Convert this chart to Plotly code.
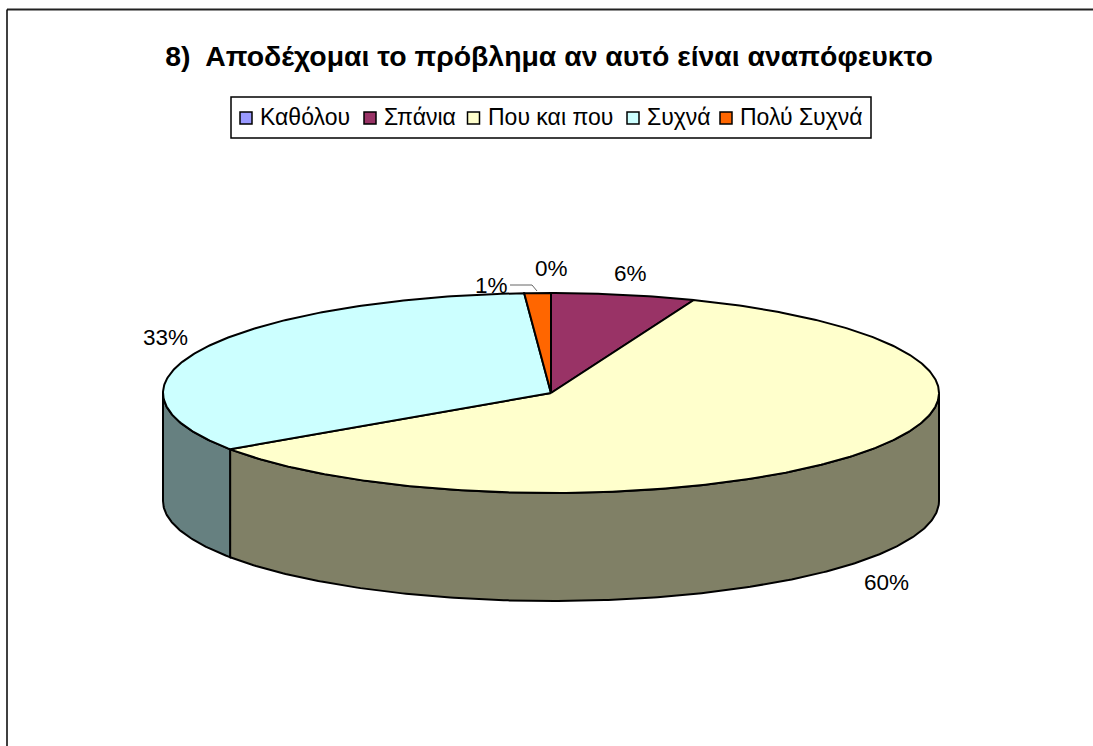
import math
import plotly.graph_objects as go

TITLE = "8)  Αποδέχομαι το πρόβλημα αν αυτό είναι αναπόφευκτο"
categories = ["Καθόλου", "Σπάνια", "Που και που", "Συχνά", "Πολύ Συχνά"]
values = [0.0, 6.0, 59.5, 33.4, 1.1]
colors = ["#9999FF", "#993366", "#FFFFCC", "#CCFFFF", "#FF6600"]
wall_colors = ["#4D4D80", "#4D1A33", "#808066", "#668080", "#803300"]
label_pos = [(551, 268), (630, 273), (886, 582), (165, 337), (491, 285)]
legend_swatch_x = [246, 370, 473.5, 633, 726]
legend_text_x = [260, 384, 488, 647, 740]

W, H = 1093, 746
CX, CY, RX, RY, DEPTH = 551, 393, 388, 100, 108
LEGEND_Y = 118
FONT = "Liberation Sans, Arial, sans-serif"
LINE = dict(color="black", width=2)


def pt(theta, dy=0.0):
    return CX + RX * math.sin(theta), CY - RY * math.cos(theta) + dy


def arc(a, b, dy=0.0):
    n = max(2, int(abs(b - a) / 0.01))
    return [pt(a + (b - a) * i / n, dy) for i in range(n + 1)]


fig = go.Figure()
total = sum(values)
angles = [0.0]
for v in values:
    angles.append(angles[-1] + 2 * math.pi * v / total)

# side walls: only the part of each slice on the front half of the disc
for i, col in enumerate(wall_colors):
    a = max(angles[i], math.pi / 2)
    b = min(angles[i + 1], 3 * math.pi / 2)
    if b <= a:
        continue
    poly = arc(a, b) + arc(b, a, DEPTH)
    poly.append(poly[0])
    fig.add_trace(go.Scatter(
        x=[p[0] for p in poly], y=[p[1] for p in poly], mode="lines", fill="toself",
        fillcolor=col, line=LINE, hoverinfo="skip", showlegend=False))

# top faces
for i, col in enumerate(colors):
    if values[i] <= 0:
        continue
    poly = [(CX, CY)] + arc(angles[i], angles[i + 1]) + [(CX, CY)]
    fig.add_trace(go.Scatter(
        x=[p[0] for p in poly], y=[p[1] for p in poly], mode="lines", fill="toself",
        fillcolor=col, name=categories[i], line=LINE, hoverinfo="skip", showlegend=False))

# legend box, swatches and texts
fig.add_shape(type="rect", x0=231, y0=97, x1=871, y1=138, fillcolor="white",
              line=dict(color="black", width=1.5), layer="below")
fig.add_trace(go.Scatter(
    x=legend_swatch_x, y=[LEGEND_Y] * len(categories), mode="markers", showlegend=False,
    hoverinfo="skip",
    marker=dict(symbol="square", size=12, color=colors, line=dict(color="black", width=1.5))))
for name, lx in zip(categories, legend_text_x):
    fig.add_annotation(x=lx, y=LEGEND_Y - 1, text=name, showarrow=False, xanchor="left",
                       yanchor="middle", xshift=-2,
                       font=dict(family=FONT, size=23, color="black"))

# data labels
for v, (lx, ly) in zip(values, label_pos):
    fig.add_annotation(x=lx, y=ly, text=f"{v / total * 100:.0f}%", showarrow=False,
                       xanchor="center", yanchor="middle",
                       font=dict(family=FONT, size=22.5, color="black"))

# leader line of the smallest labels
fig.add_shape(type="path", path="M 510 285 L 532 285 L 537 291",
              line=dict(color="#666666", width=1))
# chart frame (top and left edges are what is visible)
fig.add_shape(type="line", x0=7, y0=9.5, x1=W, y1=9.5, line=dict(color="#222222", width=2))
fig.add_shape(type="line", x0=7, y0=9.5, x1=7, y1=H, line=dict(color="black", width=1.5))

fig.update_layout(
    width=W, height=H, margin=dict(l=0, r=0, t=0, b=0),
    paper_bgcolor="white", plot_bgcolor="white",
    title=dict(text=f"<b>{TITLE}</b>", x=549 / W, y=1 - 56 / H, xanchor="center", yanchor="middle",
               font=dict(family=FONT, size=28.4, color="black")),
    xaxis=dict(range=[0, W], visible=False, fixedrange=True),
    yaxis=dict(range=[H, 0], visible=False, fixedrange=True),
    showlegend=False,
)

fig.write_html("out.html", config=dict(displayModeBar=False),
               post_script="document.body.style.margin='0';document.body.style.overflow='hidden';")
